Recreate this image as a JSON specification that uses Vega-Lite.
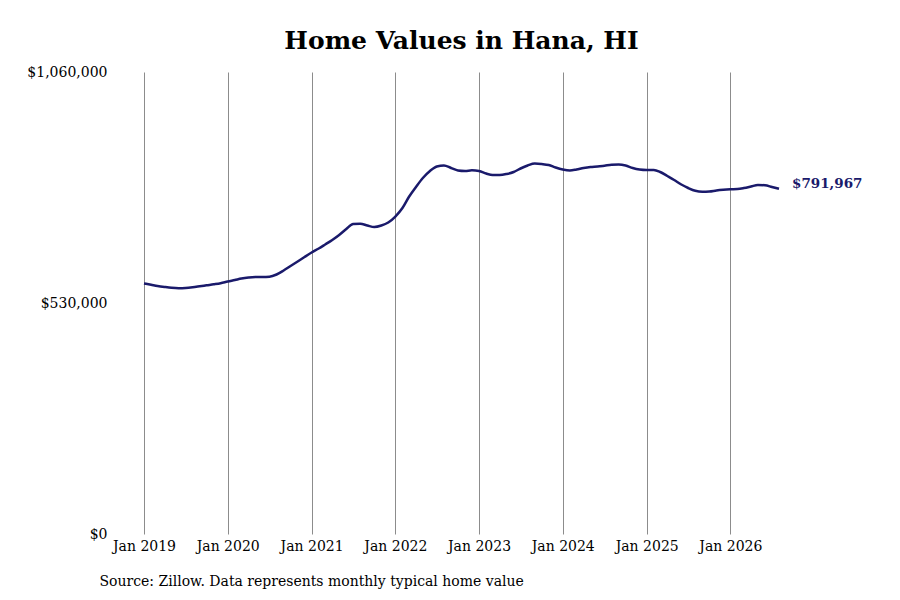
{
  "$schema": "https://vega.github.io/schema/vega-lite/v6.json",
  "description": "Home values in Hana, HI - monthly typical home value",
  "autosize": {"type": "none"},
  "padding": {"left": 144, "top": 72, "right": 121, "bottom": 66},
  "width": 635,
  "height": 462,
  "background": "white",
  "title": {
    "text": "Home Values in Hana, HI",
    "font": "DejaVu Serif",
    "fontSize": 25,
    "fontWeight": "bold",
    "color": "black",
    "anchor": "middle",
    "baseline": "alphabetic",
    "offset": 20,
    "dy": 29
  },
  "config": {
    "view": {"stroke": null},
    "font": "DejaVu Serif"
  },
  "data": {
    "values": [
      {"date": "2019-01-01", "value": 574740},
      {"date": "2019-02-01", "value": 571760},
      {"date": "2019-03-01", "value": 569000},
      {"date": "2019-04-01", "value": 566710},
      {"date": "2019-05-01", "value": 564870},
      {"date": "2019-06-01", "value": 563960},
      {"date": "2019-07-01", "value": 564420},
      {"date": "2019-08-01", "value": 566020},
      {"date": "2019-09-01", "value": 568310},
      {"date": "2019-10-01", "value": 570610},
      {"date": "2019-11-01", "value": 572900},
      {"date": "2019-12-01", "value": 575430},
      {"date": "2020-01-01", "value": 579330},
      {"date": "2020-02-01", "value": 582770},
      {"date": "2020-03-01", "value": 586210},
      {"date": "2020-04-01", "value": 588510},
      {"date": "2020-05-01", "value": 589660},
      {"date": "2020-06-01", "value": 589660},
      {"date": "2020-07-01", "value": 590340},
      {"date": "2020-08-01", "value": 595390},
      {"date": "2020-09-01", "value": 604570},
      {"date": "2020-10-01", "value": 614890},
      {"date": "2020-11-01", "value": 625220},
      {"date": "2020-12-01", "value": 635540},
      {"date": "2021-01-01", "value": 645870},
      {"date": "2021-02-01", "value": 655050},
      {"date": "2021-03-01", "value": 664230},
      {"date": "2021-04-01", "value": 674540},
      {"date": "2021-05-01", "value": 686020},
      {"date": "2021-06-01", "value": 699780},
      {"date": "2021-07-01", "value": 711250},
      {"date": "2021-08-01", "value": 711710},
      {"date": "2021-09-01", "value": 707810},
      {"date": "2021-10-01", "value": 704370},
      {"date": "2021-11-01", "value": 707810},
      {"date": "2021-12-01", "value": 714700},
      {"date": "2022-01-01", "value": 728460},
      {"date": "2022-02-01", "value": 747960},
      {"date": "2022-03-01", "value": 773200},
      {"date": "2022-04-01", "value": 796150},
      {"date": "2022-05-01", "value": 816800},
      {"date": "2022-06-01", "value": 832860},
      {"date": "2022-07-01", "value": 843180},
      {"date": "2022-08-01", "value": 845480},
      {"date": "2022-09-01", "value": 839740},
      {"date": "2022-10-01", "value": 834000},
      {"date": "2022-11-01", "value": 832860},
      {"date": "2022-12-01", "value": 834460},
      {"date": "2023-01-01", "value": 832860},
      {"date": "2023-02-01", "value": 827120},
      {"date": "2023-03-01", "value": 823680},
      {"date": "2023-04-01", "value": 823680},
      {"date": "2023-05-01", "value": 825970},
      {"date": "2023-06-01", "value": 830560},
      {"date": "2023-07-01", "value": 838590},
      {"date": "2023-08-01", "value": 845480},
      {"date": "2023-09-01", "value": 850070},
      {"date": "2023-10-01", "value": 848920},
      {"date": "2023-11-01", "value": 846630},
      {"date": "2023-12-01", "value": 840890},
      {"date": "2024-01-01", "value": 836300},
      {"date": "2024-02-01", "value": 834000},
      {"date": "2024-03-01", "value": 836300},
      {"date": "2024-04-01", "value": 839740},
      {"date": "2024-05-01", "value": 842040},
      {"date": "2024-06-01", "value": 843180},
      {"date": "2024-07-01", "value": 845020},
      {"date": "2024-08-01", "value": 847080},
      {"date": "2024-09-01", "value": 847770},
      {"date": "2024-10-01", "value": 845480},
      {"date": "2024-11-01", "value": 839740},
      {"date": "2024-12-01", "value": 836300},
      {"date": "2025-01-01", "value": 835150},
      {"date": "2025-02-01", "value": 835150},
      {"date": "2025-03-01", "value": 830560},
      {"date": "2025-04-01", "value": 821380},
      {"date": "2025-05-01", "value": 812210},
      {"date": "2025-06-01", "value": 801880},
      {"date": "2025-07-01", "value": 793850},
      {"date": "2025-08-01", "value": 787430},
      {"date": "2025-09-01", "value": 785370},
      {"date": "2025-10-01", "value": 785830},
      {"date": "2025-11-01", "value": 788120},
      {"date": "2025-12-01", "value": 789730},
      {"date": "2026-01-01", "value": 790870},
      {"date": "2026-02-01", "value": 791560},
      {"date": "2026-03-01", "value": 793850},
      {"date": "2026-04-01", "value": 797290},
      {"date": "2026-05-01", "value": 800740},
      {"date": "2026-06-01", "value": 800050},
      {"date": "2026-07-01", "value": 796150},
      {"date": "2026-08-01", "value": 791967}
    ]
  },
  "encoding": {
    "x": {
      "field": "date",
      "type": "temporal",
      "scale": {
        "type": "utc",
        "domain": [
          {"year": 2019, "month": 1, "date": 1, "utc": true},
          {"year": 2026, "month": 8, "date": 1, "utc": true}
        ]
      },
      "axis": {
        "values": [
          {"year": 2019, "month": 1, "date": 1, "utc": true},
          {"year": 2020, "month": 1, "date": 1, "utc": true},
          {"year": 2021, "month": 1, "date": 1, "utc": true},
          {"year": 2022, "month": 1, "date": 1, "utc": true},
          {"year": 2023, "month": 1, "date": 1, "utc": true},
          {"year": 2024, "month": 1, "date": 1, "utc": true},
          {"year": 2025, "month": 1, "date": 1, "utc": true},
          {"year": 2026, "month": 1, "date": 1, "utc": true}
        ],
        "labelExpr": "utcFormat(datum.value, '%b %Y')",
        "labelOverlap": false,
        "labelFlush": false,
        "grid": true,
        "gridColor": "#8c8c8c",
        "gridWidth": 1,
        "domain": false,
        "ticks": false,
        "labelPadding": 5,
        "labelFont": "DejaVu Serif",
        "labelFontSize": 14,
        "labelColor": "black",
        "title": "Source: Zillow. Data represents monthly typical home value",
        "titleFont": "DejaVu Serif",
        "titleFontSize": 14,
        "titleFontWeight": "normal",
        "titleColor": "black",
        "titleAnchor": "start",
        "titleAlign": "left",
        "titleX": -45,
        "titleY": 47,
        "titleBaseline": "middle"
      }
    },
    "y": {
      "field": "value",
      "type": "quantitative",
      "scale": {"domain": [0, 1060000], "nice": false},
      "axis": {
        "values": [0, 530000, 1060000],
        "format": "$,.0f",
        "grid": false,
        "domain": false,
        "ticks": false,
        "labelPadding": 37,
        "labelFont": "DejaVu Serif",
        "labelFontSize": 14,
        "labelColor": "black",
        "title": null
      }
    }
  },
  "layer": [
    {
      "mark": {
        "type": "line",
        "color": "#1a1a6b",
        "strokeWidth": 2.5,
        "interpolate": "monotone"
      }
    },
    {
      "transform": [{"filter": "datum.value == 791967"}],
      "mark": {
        "type": "text",
        "align": "left",
        "baseline": "middle",
        "dx": 13,
        "dy": -5,
        "font": "DejaVu Serif",
        "fontSize": 13.5,
        "fontWeight": "bold",
        "color": "#1a1a6b"
      },
      "encoding": {
        "text": {"field": "value", "type": "quantitative", "format": "$,.0f"}
      }
    }
  ]
}
